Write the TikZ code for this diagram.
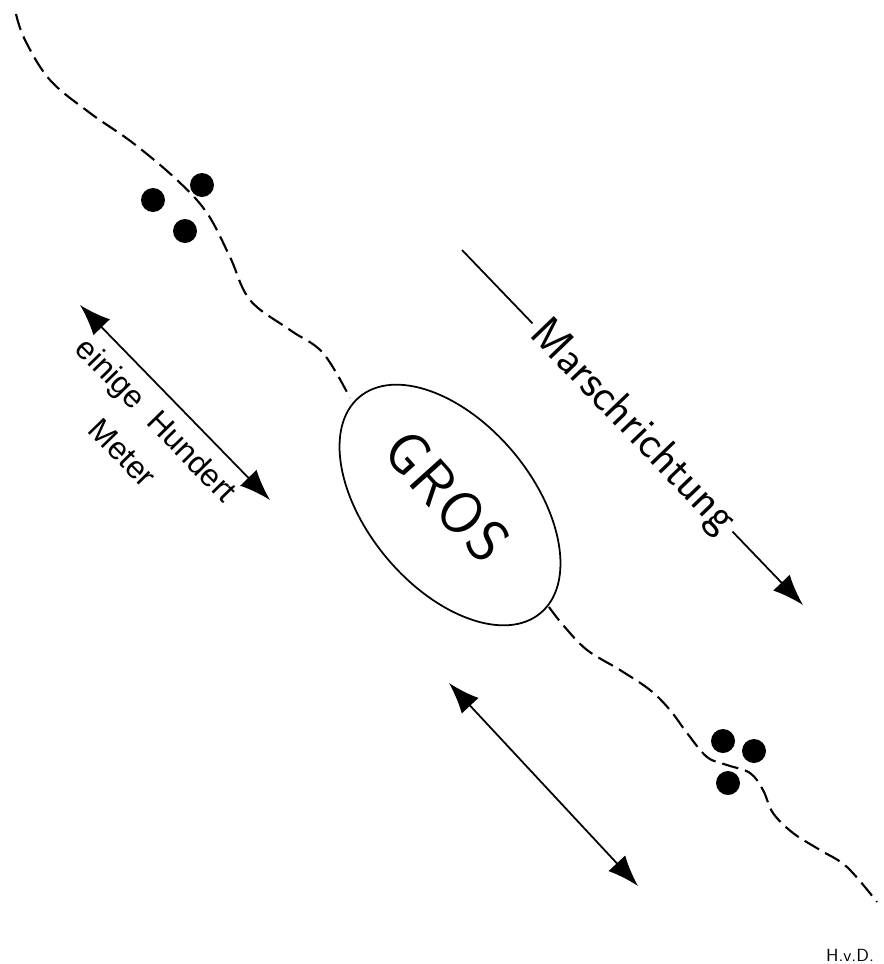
\documentclass[tikz,border=0pt]{standalone}
\usepackage{fontspec}
\usepackage{tikz}
\usetikzlibrary{arrows.meta,shapes.geometric}
\newfontfamily\helv{Liberation Sans}

\begin{document}
\begin{tikzpicture}[x=0.02cm,y=-0.02cm]
  \tikzset{%
    route/.style={line width=1.2pt,dash pattern=on 9.5pt off 4pt},
    man/.style={circle,fill=black,inner sep=0pt,minimum size=0.48cm},
    span/.style={line width=1pt,{Latex[length=0.62cm,width=0.46cm]}-{Latex[length=0.62cm,width=0.46cm]}},
  }
  \newcommand\Trupp[4]{% name, three dots
    \node[man] (#1a) at #2 {};
    \node[man] (#1b) at #3 {};
    \node[man] (#1c) at #4 {};
  }
  \useasboundingbox (0,0) rectangle (883,964);
  % Gros
  \node[draw,line width=1pt,ellipse,rotate=-50,
        minimum width=5.64cm,minimum height=3.3cm] (gros) at (450,505) {};
  \node[rotate=-48,font=\sffamily\fontsize{34}{40}\selectfont] (grostext)
    at (447,496) {G\kern1.5pt R\kern1.5pt O\kern1.5pt S};
  % Weg mit Spitze und Nachhut
  \draw[route] plot[smooth,tension=0.6] coordinates {(16,14) (25,40) (50,80)
    (90,113) (133,143) (177,180) (207,213) (230,257) (250,300) (290,330)
    (323,353) (350,398)};
  \draw[route] plot[smooth,tension=0.6] coordinates {(549,607) (563,625)
    (587,650) (620,670) (650,690) (670,710) (687,733) (707,757) (727,765)
    (750,773) (763,790) (773,813) (793,833) (820,850) (847,867) (877,902)};
  \Trupp{spitze}{(153,200)}{(202,185)}{(185,231)}
  \Trupp{nachhut}{(723,741)}{(754,751)}{(728,783)}
  % Marschrichtung
  \coordinate (m1) at (462,250);
  \coordinate (m2) at (803,605);
  \draw[line width=1pt,-{Latex[length=0.62cm,width=0.46cm]}] (m1) -- (m2)
    node[midway,sloped,fill=white,inner sep=0.12cm,
         font=\sffamily\fontsize{26}{30}\selectfont] (richtung) {Marschrichtung};
  % Abstaende
  \coordinate (a1) at (80,305);
  \coordinate (a2) at (270,500);
  \draw[span] (a1) -- (a2);
  \node[rotate=-45.7,align=center,font=\helv\fontsize{18}{27}\selectfont]
    (abstand) at (140,436) {einige\ \ Hundert\\Meter};
  \coordinate (b1) at (449,683);
  \coordinate (b2) at (638,886);
  \draw[span] (b1) -- (b2);
  \node[font=\sffamily\fontsize{10}{12}\selectfont] (sign) at (850,955) {H.v.D.};
\end{tikzpicture}
\end{document}
